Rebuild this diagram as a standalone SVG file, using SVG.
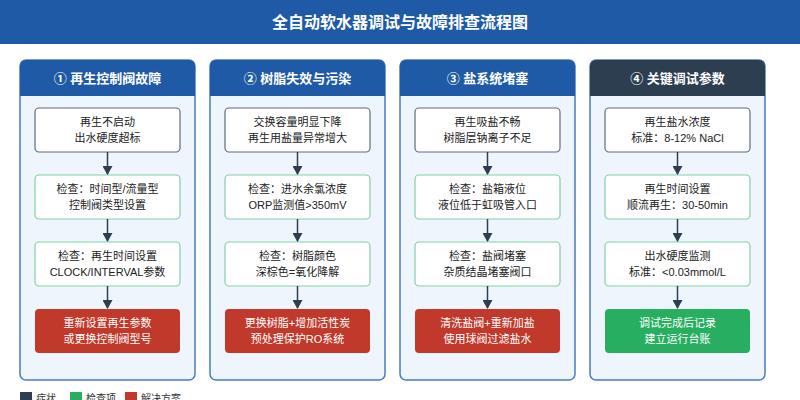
<svg xmlns="http://www.w3.org/2000/svg" width="800" height="400" viewBox="0 0 800 400">
<defs>
<style>
text{font-family:"Liberation Sans","Noto Sans CJK SC",sans-serif;text-anchor:middle}
.title{font-size:16px;font-weight:bold;fill:#fff}
.hdr{font-size:13px;font-weight:bold;fill:#fff}
.col{fill:#eef5fd;stroke:#4a7bbd;stroke-width:1.5}
.sym{fill:#fff;stroke:#5d6d7e;stroke-width:1.2}
.chk{fill:#fff;stroke:#82d0a6;stroke-width:1.2}
.sol{fill:#c0392b}
.ok{fill:#27ae60}
.t{font-size:11px;fill:#222}
.tw{font-size:11px;fill:#fff}
.leg{font-size:10px;fill:#333;text-anchor:start}
.conn line{stroke:#2c3e50;stroke-width:1.5}
</style>
<marker id="ah" markerWidth="10" markerHeight="10" refX="8" refY="5" orient="auto" markerUnits="userSpaceOnUse">
<path d="M0,0 L9,5 L0,10 z" fill="#2c3e50"/>
</marker>
</defs>
<rect x="0" y="0" width="800" height="44" fill="#1f5aa6"/>
<text class="title" x="400" y="28">全自动软水器调试与故障排查流程图</text>

<g id="col1">
<rect class="col" x="20" y="60" width="175" height="320" rx="6"/>
<path d="M20,96 V66 a6,6 0 0 1 6,-6 H189 a6,6 0 0 1 6,6 V96 z" fill="#1f5aa6"/>
<text class="hdr" x="107.5" y="83">① 再生控制阀故障</text>
</g>
<g id="col2">
<rect class="col" x="210" y="60" width="175" height="320" rx="6"/>
<path d="M210,96 V66 a6,6 0 0 1 6,-6 H379 a6,6 0 0 1 6,6 V96 z" fill="#1f5aa6"/>
<text class="hdr" x="297.5" y="83">② 树脂失效与污染</text>
</g>
<g id="col3">
<rect class="col" x="400" y="60" width="175" height="320" rx="6"/>
<path d="M400,96 V66 a6,6 0 0 1 6,-6 H569 a6,6 0 0 1 6,6 V96 z" fill="#1f5aa6"/>
<text class="hdr" x="487.5" y="83">③ 盐系统堵塞</text>
</g>
<g id="col4">
<rect class="col" x="590" y="60" width="175" height="320" rx="6"/>
<path d="M590,96 V66 a6,6 0 0 1 6,-6 H759 a6,6 0 0 1 6,6 V96 z" fill="#2c3e50"/>
<text class="hdr" x="677.5" y="83">④ 关键调试参数</text>
</g>

<g id="c1n1"><rect class="sym" x="35" y="108" width="145" height="44" rx="4"/><text class="t" x="107.5" y="126">再生不启动</text><text class="t" x="107.5" y="142">出水硬度超标</text></g>
<g id="c1n2"><rect class="chk" x="35" y="175" width="145" height="44" rx="4"/><text class="t" x="107.5" y="193">检查：时间型/流量型</text><text class="t" x="107.5" y="209">控制阀类型设置</text></g>
<g id="c1n3"><rect class="chk" x="35" y="242" width="145" height="44" rx="4"/><text class="t" x="107.5" y="260">检查：再生时间设置</text><text class="t" x="107.5" y="276">CLOCK/INTERVAL参数</text></g>
<g id="c1n4"><rect class="sol" x="35" y="309" width="145" height="44" rx="4"/><text class="tw" x="107.5" y="327">重新设置再生参数</text><text class="tw" x="107.5" y="343">或更换控制阀型号</text></g>

<g id="c2n1"><rect class="sym" x="225" y="108" width="145" height="44" rx="4"/><text class="t" x="297.5" y="126">交换容量明显下降</text><text class="t" x="297.5" y="142">再生用盐量异常增大</text></g>
<g id="c2n2"><rect class="chk" x="225" y="175" width="145" height="44" rx="4"/><text class="t" x="297.5" y="193">检查：进水余氯浓度</text><text class="t" x="297.5" y="209">ORP监测值&gt;350mV</text></g>
<g id="c2n3"><rect class="chk" x="225" y="242" width="145" height="44" rx="4"/><text class="t" x="297.5" y="260">检查：树脂颜色</text><text class="t" x="297.5" y="276">深棕色=氧化降解</text></g>
<g id="c2n4"><rect class="sol" x="225" y="309" width="145" height="44" rx="4"/><text class="tw" x="297.5" y="327">更换树脂+增加活性炭</text><text class="tw" x="297.5" y="343">预处理保护RO系统</text></g>

<g id="c3n1"><rect class="sym" x="415" y="108" width="145" height="44" rx="4"/><text class="t" x="487.5" y="126">再生吸盐不畅</text><text class="t" x="487.5" y="142">树脂层钠离子不足</text></g>
<g id="c3n2"><rect class="chk" x="415" y="175" width="145" height="44" rx="4"/><text class="t" x="487.5" y="193">检查：盐箱液位</text><text class="t" x="487.5" y="209">液位低于虹吸管入口</text></g>
<g id="c3n3"><rect class="chk" x="415" y="242" width="145" height="44" rx="4"/><text class="t" x="487.5" y="260">检查：盐阀堵塞</text><text class="t" x="487.5" y="276">杂质结晶堵塞阀口</text></g>
<g id="c3n4"><rect class="sol" x="415" y="309" width="145" height="44" rx="4"/><text class="tw" x="487.5" y="327">清洗盐阀+重新加盐</text><text class="tw" x="487.5" y="343">使用球阀过滤盐水</text></g>

<g id="c4n1"><rect class="sym" x="605" y="108" width="145" height="44" rx="4"/><text class="t" x="677.5" y="126">再生盐水浓度</text><text class="t" x="677.5" y="142">标准：8-12% NaCl</text></g>
<g id="c4n2"><rect class="chk" x="605" y="175" width="145" height="44" rx="4"/><text class="t" x="677.5" y="193">再生时间设置</text><text class="t" x="677.5" y="209">顺流再生：30-50min</text></g>
<g id="c4n3"><rect class="chk" x="605" y="242" width="145" height="44" rx="4"/><text class="t" x="677.5" y="260">出水硬度监测</text><text class="t" x="677.5" y="276">标准：&lt;0.03mmol/L</text></g>
<g id="c4n4"><rect class="ok" x="605" y="309" width="145" height="44" rx="4"/><text class="tw" x="677.5" y="327">调试完成后记录</text><text class="tw" x="677.5" y="343">建立运行台账</text></g>

<g class="conn" id="connectors">
<line x1="107.5" y1="152" x2="107.5" y2="174" marker-end="url(#ah)"/>
<line x1="107.5" y1="219" x2="107.5" y2="241" marker-end="url(#ah)"/>
<line x1="107.5" y1="286" x2="107.5" y2="308" marker-end="url(#ah)"/>
<line x1="297.5" y1="152" x2="297.5" y2="174" marker-end="url(#ah)"/>
<line x1="297.5" y1="219" x2="297.5" y2="241" marker-end="url(#ah)"/>
<line x1="297.5" y1="286" x2="297.5" y2="308" marker-end="url(#ah)"/>
<line x1="487.5" y1="152" x2="487.5" y2="174" marker-end="url(#ah)"/>
<line x1="487.5" y1="219" x2="487.5" y2="241" marker-end="url(#ah)"/>
<line x1="487.5" y1="286" x2="487.5" y2="308" marker-end="url(#ah)"/>
<line x1="677.5" y1="152" x2="677.5" y2="174" marker-end="url(#ah)"/>
<line x1="677.5" y1="219" x2="677.5" y2="241" marker-end="url(#ah)"/>
<line x1="677.5" y1="286" x2="677.5" y2="308" marker-end="url(#ah)"/>
</g>

<g id="legend">
<rect x="20" y="392" width="12" height="12" fill="#2c3e50"/>
<text class="leg" x="36" y="402">症状</text>
<rect x="70" y="392" width="12" height="12" fill="#27ae60"/>
<text class="leg" x="86" y="402">检查项</text>
<rect x="125" y="392" width="12" height="12" fill="#c0392b"/>
<text class="leg" x="141" y="402">解决方案</text>
</g>
</svg>
